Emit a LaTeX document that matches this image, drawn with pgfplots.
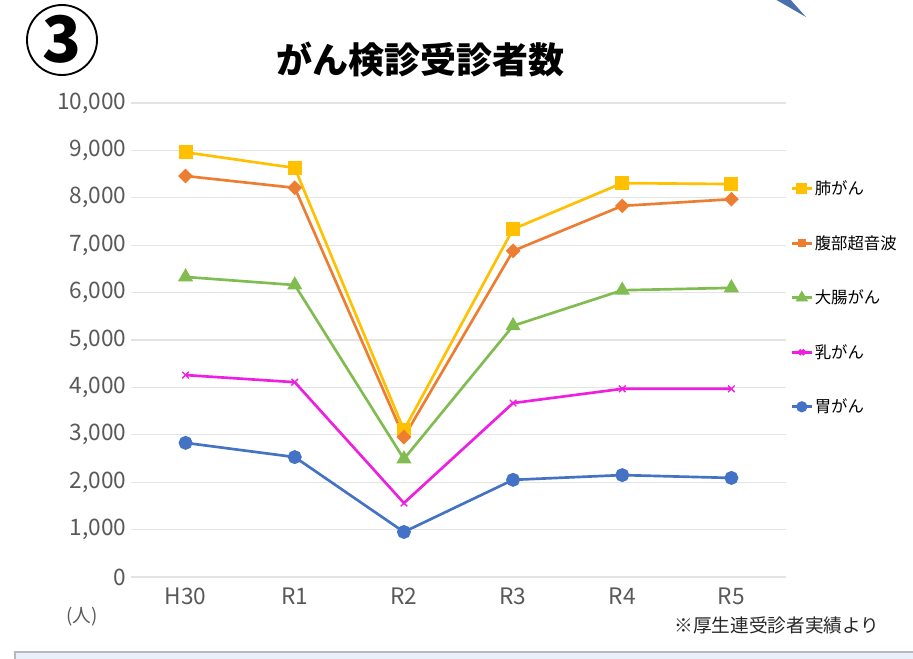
\documentclass[border=0pt]{standalone}
\usepackage{fontspec}
\setmainfont{Noto Sans CJK JP}
\usepackage{pgfplots}
\pgfplotsset{compat=1.18}

\definecolor{haigan}{HTML}{FFC000}
\definecolor{fukubu}{HTML}{ED7D31}
\definecolor{daicho}{HTML}{80BC50}
\definecolor{nyu}{HTML}{EE1FE0}
\definecolor{igan}{HTML}{4472C4}
\definecolor{gridgray}{HTML}{E4E4E4}
\definecolor{ticktext}{HTML}{595959}
\definecolor{boxblue}{HTML}{EAF0F9}
\definecolor{arrowblue}{HTML}{4A6FAE}

\begin{document}
% 1 unit = 1 px of the 913x658 reference, y measured from the bottom
\begin{tikzpicture}[x=0.75pt,y=0.75pt]
\useasboundingbox (0,0) rectangle (913,658);

% box at the bottom and arrow tip at the top
\draw[fill=boxblue,draw=gray!55,line width=0.8pt] (15,-30) rectangle (940,6);
\fill[arrowblue] (773,660) -- (789,660) -- (806,641) -- cycle;

% circled number
\draw[line width=1.4pt] (62,618) circle[radius=35];
\node[font=\fontsize{48}{48}\bfseries\selectfont] at (62,619) {3};

% title
\node[font=\fontsize{27}{30}\bfseries\selectfont] at (420,598) {がん検診受診者数};

\begin{axis}[
    at={(98.25pt,60.75pt)}, anchor=south west,
    scale only axis,
    width=491.25pt, height=355.5pt,
    xmin=-0.5, xmax=5.5,
    ymin=0, ymax=10000,
    xtick={0,...,5},
    xticklabels={H30,R1,R2,R3,R4,R5},
    ytick={0,1000,...,10000},
    scaled y ticks=false,
    /pgf/number format/.cd, 1000 sep={,}, assume math mode=true, /pgfplots/.cd,
    ymajorgrids,
    grid style={draw=gridgray,line width=0.8pt},
    axis line style={draw=none},
    major tick length=0pt,
    tick label style={font=\fontsize{17}{18}\selectfont, text=ticktext},
    xticklabel style={yshift=-5pt},
    clip=false,
    legend cell align=left,
    legend style={draw=none, fill=none, at={(1.0,0.845)}, anchor=north west,
        font=\fontsize{12.3}{14}\selectfont, row sep=27pt,
        nodes={inner sep=1pt}},
    legend image code/.code={
        \draw[mark repeat=2,mark phase=2,mark options={scale=0.75}] plot coordinates {(0cm,0cm) (0.27cm,0cm) (0.54cm,0cm)};},
    every axis plot/.append style={line width=2pt},
]
\addplot[haigan, mark=square*, mark size=4.2pt] coordinates {
    (0,8960) (1,8630) (2,3100) (3,7340) (4,8310) (5,8290)};
\addlegendentry{肺がん}
\addplot[fukubu, mark=square*, mark size=2.9pt, mark options={rotate=45}] coordinates {
    (0,8460) (1,8210) (2,2950) (3,6880) (4,7830) (5,7970)};
\addlegendentry{腹部超音波}
\addplot[daicho, mark=triangle*, mark size=4.6pt] coordinates {
    (0,6330) (1,6160) (2,2490) (3,5300) (4,6050) (5,6100)};
\addlegendentry{大腸がん}
\addplot[nyu, mark=x, mark size=3.5pt, mark options={line width=1pt}] coordinates {
    (0,4260) (1,4110) (2,1560) (3,3670) (4,3970) (5,3970)};
\addlegendentry{乳がん}
\addplot[igan, mark=*, mark size=4.2pt] coordinates {
    (0,2830) (1,2530) (2,950) (3,2050) (4,2150) (5,2090)};
\addlegendentry{胃がん}
\end{axis}

% unit and source notes
\node[font=\fontsize{14}{16}\selectfont, text=ticktext] at (82,41) {(人)};
\node[font=\fontsize{14}{16}\selectfont, text=black!85] at (777,33) {※厚生連受診者実績より};
\end{tikzpicture}
\end{document}
